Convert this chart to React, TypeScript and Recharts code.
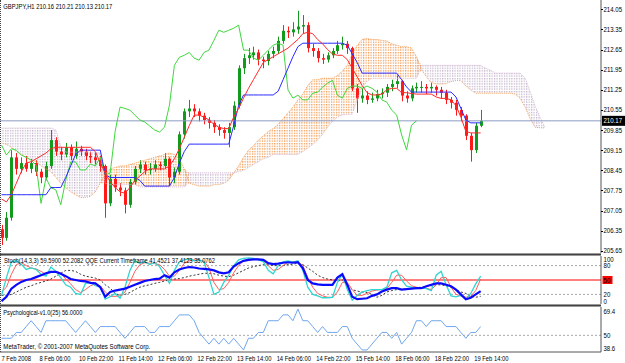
import React from 'react';
import { ComposedChart, Line, Bar, Area, XAxis, YAxis, ReferenceLine } from 'recharts';

// ---------- price data (one candle = 2 H1 bars) ----------
const OPEN = [
  206.4, 206.1, 206.8, 208.9, 208.5, 208.7, 208.5, 208.7, 208.4, 208.2,
  208.6, 209.5, 209.1, 209.0, 209.25, 208.95, 209.2, 209.1, 208.95, 208.9,
  208.8, 208.6, 207.3, 208.15, 207.85, 207.75, 207.25, 208.05, 208.5, 208.65,
  208.45, 208.5, 208.65, 208.6, 208.85, 208.2, 208.4, 209.7, 210.5, 210.6,
  210.5, 210.35, 210.2, 210.1, 209.95, 209.85, 209.75, 209.95, 210.7, 212.0,
  212.35, 212.45, 212.55, 212.3, 212.25, 212.5, 212.6, 212.95, 213.3, 213.25,
  213.35, 213.45, 213.5, 212.7, 212.6, 212.35, 212.3, 212.45, 212.6, 212.8,
  212.85, 212.7, 211.3, 210.95, 211.05, 210.9, 210.95, 211.1, 211.15, 211.35,
  211.45, 211.55, 211.05, 210.95, 211.3, 211.35, 211.35, 211.3, 211.35, 211.25,
  211.15, 210.9, 210.8, 210.55, 210.35, 209.65, 209.15, 210.0,
];
const HIGH = [
  206.55, 207.0, 209.15, 209.05, 208.9, 208.95, 208.85, 208.8, 208.5, 208.75,
  209.85, 209.6, 209.25, 209.4, 209.35, 209.45, 209.3, 209.2, 209.1, 209.05,
  208.95, 208.65, 208.3, 208.3, 208.0, 207.85, 208.15, 208.6, 208.8, 208.75,
  208.7, 208.8, 208.75, 209.05, 208.9, 208.55, 209.8, 210.6, 210.9, 210.75,
  210.6, 210.45, 210.3, 210.2, 210.05, 209.95, 210.1, 210.85, 212.1, 212.5,
  212.7, 212.75, 212.65, 212.4, 212.6, 212.75, 213.1, 213.5, 213.45, 213.6,
  214.0, 213.85, 213.6, 212.85, 212.7, 212.5, 212.55, 212.7, 212.95, 213.1,
  212.95, 212.75, 211.45, 211.3, 211.2, 211.15, 211.25, 211.3, 211.45, 211.6,
  211.75, 211.6, 211.2, 211.4, 211.5, 211.55, 211.45, 211.5, 211.4, 211.35,
  211.25, 211.0, 210.9, 210.65, 210.4, 209.75, 210.1, 210.55,
];
const LOW = [
  205.85, 206.0, 206.7, 208.3, 208.35, 208.4, 208.35, 208.25, 208.0, 208.1,
  208.5, 208.95, 208.8, 208.9, 208.8, 208.85, 208.95, 208.8, 208.7, 208.65,
  208.4, 206.8, 207.2, 207.7, 207.55, 206.95, 207.15, 207.95, 208.35, 208.3,
  208.3, 208.4, 208.45, 208.5, 207.9, 208.0, 208.3, 209.55, 210.3, 210.3,
  210.15, 210.05, 209.9, 209.75, 209.65, 209.55, 209.25, 209.85, 210.6, 211.8,
  212.15, 212.3, 212.1, 212.0, 212.1, 212.35, 212.5, 212.85, 213.05, 213.1,
  213.2, 213.2, 212.55, 212.4, 212.2, 212.15, 212.2, 212.35, 212.5, 212.65,
  212.5, 211.2, 210.45, 210.8, 210.75, 210.8, 210.85, 210.95, 211.0, 211.2,
  211.3, 210.85, 210.8, 210.85, 211.15, 211.15, 211.1, 211.15, 211.05, 210.95,
  210.75, 210.6, 210.35, 210.15, 209.5, 208.75, 209.05, 209.95,
];
const CLOSE = [
  206.1, 206.8, 208.9, 208.5, 208.7, 208.5, 208.7, 208.4, 208.2, 208.6,
  209.5, 209.1, 209.0, 209.25, 208.95, 209.2, 209.1, 208.95, 208.9, 208.8,
  208.6, 207.3, 208.15, 207.85, 207.75, 207.25, 208.05, 208.5, 208.65, 208.45,
  208.5, 208.65, 208.6, 208.85, 208.2, 208.4, 209.7, 210.5, 210.6, 210.5,
  210.35, 210.2, 210.1, 209.95, 209.85, 209.75, 209.95, 210.7, 212.0, 212.35,
  212.45, 212.55, 212.3, 212.25, 212.5, 212.6, 212.95, 213.3, 213.25, 213.35,
  213.45, 213.5, 212.7, 212.6, 212.35, 212.3, 212.45, 212.6, 212.8, 212.85,
  212.7, 211.3, 210.95, 211.05, 210.9, 210.95, 211.1, 211.15, 211.35, 211.45,
  211.55, 211.05, 210.95, 211.3, 211.35, 211.35, 211.3, 211.35, 211.25, 211.15,
  210.9, 210.8, 210.55, 210.35, 209.65, 209.15, 210.0, 210.17,
];

// ---------- Ichimoku ----------
const TENKAN = [
  207.45, 207.35, 207.6, 208.0, 208.4, 208.7, 208.75, 208.85, 208.95, 209.05,
  209.2, 209.25, 209.25, 209.25, 209.25, 209.25, 209.25, 209.25, 209.25, 209.1,
  208.7, 208.35, 208.05, 207.85, 207.7, 207.65, 207.85, 208.1, 208.25, 208.4,
  208.5, 208.5, 208.5, 208.5, 208.6, 208.85, 209.2, 209.6, 210.0, 210.37,
  210.37, 210.3, 210.2, 210.05, 209.95, 209.9, 209.9, 210.3, 210.6, 210.96,
  211.3, 211.6, 211.9, 212.2, 212.3, 212.4, 212.5, 212.6, 212.7, 212.85,
  213.0, 213.2, 213.25, 213.2, 213.0, 212.85, 212.65, 212.5, 212.45, 212.45,
  212.3, 212.0, 211.7, 211.4, 211.15, 211.07, 211.07, 211.1, 211.25, 211.3,
  211.3, 211.15, 211.15, 211.12, 211.1, 211.1, 211.1, 211.1, 211.0, 210.95,
  210.95, 210.9, 210.7, 210.3, 209.8, 209.75, 209.75, 209.75,
];
const KIJUN = [
  207.6, 207.6, 207.6, 207.6, 207.6, 207.6, 207.6, 207.6, 207.6, 207.6,
  207.85, 207.85, 207.85, 208.2, 208.6, 209.0, 209.15, 209.15, 209.15, 209.15,
  209.15, 208.3, 208.2, 208.2, 208.2, 208.2, 208.2, 208.2, 208.1, 207.9,
  207.9, 207.9, 207.9, 207.9, 207.9, 208.2, 208.7, 209.1, 209.36, 209.36,
  209.36, 209.36, 209.36, 209.36, 209.36, 209.36, 209.36, 210.0, 210.7, 211.07,
  211.07, 211.07, 211.07, 211.07, 211.07, 211.07, 211.2, 211.6, 212.0, 212.4,
  212.75, 212.87, 212.87, 212.87, 212.87, 212.87, 212.87, 212.87, 212.87, 212.87,
  212.8, 212.5, 212.2, 211.83, 211.83, 211.83, 211.83, 211.83, 211.83, 211.83,
  211.83, 211.6, 211.35, 211.17, 211.17, 211.17, 211.17, 211.17, 211.17, 211.17,
  211.17, 211.17, 211.0, 210.6, 210.2, 210.1, 210.1, 210.1,
];
const CHIKOU = [
  209.33, 208.98, 209.2, 209.15, 208.98, 208.9, 208.8, 208.63, 207.3, 208.18,
  207.84, 207.77, 207.25, 208.1, 208.74, 208.74, 208.46, 208.46, 208.67, 208.6,
  208.9, 208.3, 208.35, 209.8, 210.65, 210.6, 210.54, 210.37, 210.2, 210.13,
  209.99, 209.85, 209.78, 209.95, 210.72, 212.1, 212.38, 212.45, 212.55, 212.35,
  212.28, 212.55, 212.63, 212.97, 213.32, 213.25, 213.32, 213.39, 213.5, 212.63,
  212.63, 212.35, 212.28, 212.45, 212.63, 212.8, 212.87, 212.8, 211.24, 210.96,
  211.06, 210.9, 210.9, 211.13, 211.17, 211.34, 211.48, 211.58, 211.06, 210.96,
  211.3, 211.38, 211.38, 211.3, 211.38, 211.3, 211.17, 210.9, 210.82, 210.54,
  210.37, 209.68, 209.16, 210.02, 210.17,
];
const SPAN_A = [
  209.4, 209.35, 209.25, 209.1, 209.0, 208.9, 208.8, 208.75, 208.6, 208.5,
  208.4, 208.2, 208.0, 207.85, 207.7, 207.6, 207.5, 207.5, 207.55, 207.7,
  208.0, 208.3, 208.5, 208.55, 208.6, 208.6, 208.65, 208.7, 208.75, 208.8,
  208.85, 208.9, 208.95, 209.0, 209.05, 209.0, 208.85, 208.5, 208.0, 207.95,
  207.9, 207.9, 207.9, 207.95, 207.95, 208.0, 208.1, 208.36, 208.6, 208.9,
  209.15, 209.3, 209.5, 209.65, 209.8, 209.9, 210.05, 210.25, 210.45, 210.65,
  210.9, 211.1, 211.4, 211.6, 211.6, 211.65, 211.65, 211.65, 211.75, 211.9,
  212.1, 212.5, 212.8, 213.0, 213.04, 213.0, 213.0, 212.97, 212.95, 212.85,
  212.8, 212.75, 212.75, 212.7, 212.4, 211.95, 211.7, 211.5, 211.45, 211.45,
  211.47, 211.54, 211.57, 211.57, 211.38, 211.25, 211.13, 211.13, 211.13, 211.13,
  211.13, 211.13, 211.13, 211.13, 211.1, 210.95, 210.65, 210.25, 209.95, 209.93,
  209.92,
];
const SPAN_B = [
  209.92, 209.92, 209.92, 209.92, 209.92, 209.92, 209.92, 209.92, 209.92, 209.92,
  209.92, 209.85, 209.3, 209.08, 209.08, 209.08, 209.08, 209.08, 209.08, 209.08,
  209.05, 208.0, 207.95, 207.95, 207.95, 207.95, 207.95, 207.95, 207.87, 207.87,
  207.87, 207.87, 207.87, 207.87, 207.87, 207.87, 207.87, 207.87, 208.36, 208.36,
  208.36, 208.36, 208.36, 208.36, 208.36, 208.36, 208.36, 208.36, 208.4, 208.45,
  208.55, 208.65, 208.75, 208.85, 208.9, 209.0, 209.0, 209.0, 209.0, 209.0,
  209.0, 209.1, 209.22, 209.35, 209.5, 209.7, 209.95, 210.15, 210.3, 210.37,
  210.4, 210.4, 210.9, 211.3, 211.55, 211.65, 211.65, 211.65, 211.65, 211.65,
  211.65, 211.65, 211.65, 211.65, 211.65, 212.1, 212.1, 212.1, 212.1, 212.1,
  212.1, 212.1, 212.1, 212.1, 212.1, 212.1, 212.1, 212.1, 212.0, 211.93,
  211.83, 211.83, 211.83, 211.83, 211.83, 211.83, 211.65, 211.2, 210.7, 210.3,
  209.95,
];
const BID = 210.17;
const PRICE_TICKS = [205.65, 206.35, 207.05, 207.75, 208.45, 209.15, 209.85, 210.55, 211.25, 211.95, 212.65, 213.35, 214.05];

// ---------- Stochastic + QQE ----------
const STOCH_MAIN = [
  17, 55, 88, 90, 83, 72, 75, 72, 62, 58,
  77, 68, 55, 40, 35, 22, 20, 43, 45, 38,
  35, 10, 15, 22, 12, 35, 70, 90, 85, 88,
  82, 86, 78, 60, 43, 70, 88, 92, 94, 90,
  92, 88, 55, 20, 25, 45, 60, 80, 92, 95,
  96, 95, 92, 88, 70, 63, 80, 88, 90, 87,
  90, 70, 35, 20, 17, 13, 13, 14, 45, 62,
  30, 8, 18, 25, 28, 30, 30, 30, 35, 65,
  70, 50, 37, 35, 32, 33, 32, 28, 60, 68,
  40, 17, 15, 18, 10, 22, 42, 58,
];
const STOCH_SIGNAL = [
  25, 35, 62, 82, 86, 80, 75, 73, 68, 62,
  66, 68, 65, 52, 42, 30, 24, 30, 38, 42,
  38, 25, 16, 16, 17, 25, 45, 68, 82, 86,
  85, 84, 82, 72, 58, 58, 70, 85, 90, 92,
  91, 89, 75, 45, 30, 32, 45, 65, 80, 90,
  94, 95, 93, 90, 80, 70, 72, 80, 87, 88,
  88, 80, 55, 35, 22, 17, 14, 14, 25, 45,
  45, 30, 18, 18, 22, 27, 29, 30, 32, 45,
  60, 60, 48, 38, 35, 33, 33, 30, 40, 55,
  55, 35, 20, 17, 14, 16, 28, 52,
];
const QQE_RSI = [
  6, 15, 32, 40, 46, 50, 52, 56, 60, 64,
  67, 67, 63, 58, 52, 50, 48, 47, 44, 43,
  35, 15, 25, 28, 30, 32, 36, 40, 44, 48,
  50, 52, 53, 60, 55, 66, 72, 75, 77, 76,
  74, 73, 72, 70, 66, 64, 66, 78, 85, 90,
  92, 93, 93, 92, 85, 83, 84, 86, 87, 86,
  87, 75, 50, 43, 41, 40, 40, 40, 55, 62,
  40, 15, 10, 11, 12, 17, 20, 26, 30, 33,
  33, 30, 31, 32, 33, 33, 37, 40, 43, 43,
  40, 37, 30, 20, 10, 13, 20, 27,
];
const QQE_TRAIL = [
  18, 18, 20, 25, 30, 35, 38, 42, 45, 48,
  52, 58, 64, 70, 70, 68, 62, 58, 56, 54,
  50, 40, 33, 22, 18, 20, 24, 30, 35, 38,
  40, 43, 45, 48, 50, 52, 53, 55, 58, 60,
  62, 64, 64, 63, 60, 58, 57, 60, 65, 70,
  75, 78, 80, 82, 82, 80, 80, 80, 82, 83,
  85, 82, 75, 68, 60, 55, 52, 50, 48, 50,
  40, 30, 27, 25, 24, 20, 14, 18, 25, 28,
  30, 30, 32, 33, 34, 35, 36, 38, 40, 40,
  38, 35, 30, 25, 22, 16, 14, 16,
];
const STOCH_TICKS = [100, 80, 50, 20, 0];

// ---------- Psychological ----------
const PSYCH = [
  48, 48, 48, 52, 52, 56, 60, 56, 52, 60,
  60, 60, 60, 60, 56, 52, 56, 60, 56, 52,
  56, 56, 56, 56, 52, 48, 52, 56, 56, 56,
  52, 52, 56, 56, 56, 60, 64, 64, 64, 60,
  52, 48, 44, 48, 44, 48, 44, 48, 44, 40,
  48, 48, 52, 52, 60, 60, 60, 64, 64, 60,
  68, 60, 60, 56, 52, 56, 52, 52, 52, 56,
  56, 48, 44, 40, 40, 44, 48, 52, 52, 48,
  52, 44, 48, 52, 60, 60, 56, 60, 60, 60,
  56, 56, 56, 52, 48, 52, 52, 56,
];
const PSYCH_TICKS = [69.4, 50, 38.6];

// ---------- time scale ----------
const TIME_LABELS = [
  '7 Feb 2008', '8 Feb 06:00', '10 Feb 22:00', '11 Feb 14:00', '12 Feb 06:00', '12 Feb 22:00',
  '13 Feb 14:00', '14 Feb 06:00', '14 Feb 22:00', '15 Feb 14:00', '18 Feb 06:00', '18 Feb 22:00', '19 Feb 14:00',
];
const TIME_SLOTS = [0, 8, 16, 24, 32, 40, 48, 56, 64, 72, 80, 88, 96];

// ---------- helpers ----------
const FONT = '"Liberation Sans", Arial, sans-serif';
const XDOM: [number, number] = [-0.304, 121.36];
const GREEN = '#129a1c';
const RED = '#ff1a1a';

const charW = (ch: string) =>
  /[0-9]/.test(ch) ? 3.4 : /[.,:; ]/.test(ch) ? 1.5 : /[()\-]/.test(ch) ? 2 : /[A-Z]/.test(ch) ? 3.6 : 2.9;
const tw = (s: string) => s.split('').reduce((a, ch) => a + charW(ch), 0);

const Txt = ({ x, y, w, children, fill = '#000', size = 7 }: any) => (
  <text x={x} y={y} fontSize={size} fontFamily={FONT} fill={fill} textLength={w} lengthAdjust="spacingAndGlyphs">
    {children}
  </text>
);

const mainData = SPAN_A.map((a, i) => {
  const b = SPAN_B[i];
  const n = SPAN_A.length;
  const up = (k: number) => k >= 0 && k < n && SPAN_A[k] >= SPAN_B[k];
  const dn = (k: number) => k >= 0 && k < n && SPAN_A[k] < SPAN_B[k];
  const lo = Math.min(a, b);
  const hi = Math.max(a, b);
  const has = i < CLOSE.length;
  return {
    i,
    candle: has ? [LOW[i], HIGH[i]] : null,
    o: has ? OPEN[i] : null,
    h: has ? HIGH[i] : null,
    l: has ? LOW[i] : null,
    c: has ? CLOSE[i] : null,
    tenkan: has ? TENKAN[i] : null,
    kijun: has ? KIJUN[i] : null,
    chikou: i < CHIKOU.length ? CHIKOU[i] : null,
    spanA: a,
    spanB: b,
    kUp: up(i) || up(i - 1) || up(i + 1) ? [lo, hi] : null,
    kDn: dn(i) || dn(i - 1) || dn(i + 1) ? [lo, hi] : null,
  };
});
const stochData = STOCH_MAIN.map((v, i) => ({ i, k: v, d: STOCH_SIGNAL[i], qqe: QQE_RSI[i], trail: QQE_TRAIL[i] }));
const psychData = PSYCH.map((v, i) => ({ i, p: v }));

const Candle = (props: any) => {
  const { x, y, width, height, payload } = props;
  if (!payload || payload.o == null || !isFinite(y) || !isFinite(height)) return null;
  const { o, h, l, c } = payload;
  const yTop = Math.min(y, y + height);
  const yBot = Math.max(y, y + height);
  const span = h - l || 1;
  const py = (p: number) => yTop + ((h - p) / span) * (yBot - yTop);
  const cx = Math.round(x + width / 2);
  const color = c >= o ? GREEN : RED;
  const bTop = py(Math.max(o, c));
  const bBot = py(Math.min(o, c));
  return (
    <g>
      <line x1={cx + 0.5} x2={cx + 0.5} y1={yTop} y2={yBot} stroke={color} strokeWidth={1} />
      <rect x={cx - 1} y={bTop} width={3} height={Math.max(1, bBot - bTop)} fill={color} />
    </g>
  );
};

const PriceTick = (props: any) => {
  const { y, payload } = props;
  const v = payload.value;
  if (v === BID) {
    return (
      <g>
        <rect x={602} y={y - 5} width={23} height={10} fill="#000" />
        <Txt x={603.5} y={y + 2.5} w={tw('210.17')} fill="#fff">{v.toFixed(2)}</Txt>
      </g>
    );
  }
  const cy = Math.min(y, 250.5);
  return (
    <g>
      <line x1={601} x2={603} y1={Math.round(y) + 0.5} y2={Math.round(y) + 0.5} stroke="#000" />
      <Txt x={603.5} y={cy + 2.5} w={tw(v.toFixed(2))}>{v.toFixed(2)}</Txt>
    </g>
  );
};

const StochTick = (props: any) => {
  const { y, payload } = props;
  const v = payload.value;
  const s = String(v);
  const cy = Math.max(3, Math.min(y, 45.5));
  if (v === 50) {
    return (
      <g>
        <rect x={602.5} y={y - 4} width={10} height={8} fill="#ff0000" />
        <Txt x={603.5} y={y + 2.5} w={tw(s)}>{s}</Txt>
      </g>
    );
  }
  return <Txt x={603.5} y={cy + 2.5} w={tw(s)}>{s}</Txt>;
};

const PsychTick = (props: any) => {
  const { y, payload } = props;
  const v = payload.value;
  const s = v === 50 ? '50' : v.toFixed(1);
  const cy = Math.max(4, Math.min(y, 41.5));
  return <Txt x={603.5} y={cy + 2.5} w={tw(s)}>{s}</Txt>;
};

const TimeTick = (props: any) => {
  const { x, payload } = props;
  const k = TIME_SLOTS.indexOf(payload.value);
  const label = TIME_LABELS[k] ?? '';
  const tx = Math.max(1.5, x - 1.5);
  return <Txt x={tx} y={53.5} w={tw(label)}>{label}</Txt>;
};

const M0 = { top: 0, right: 0, bottom: 0, left: 0 };

export default function App() {
  return (
    <div style={{ position: 'absolute', left: 0, top: 0, width: 625, height: 363, background: '#fff', overflow: 'hidden' }}>
      {/* main price window */}
      <div style={{ position: 'absolute', left: 0, top: 0 }}>
        <ComposedChart width={625} height={253} data={mainData} margin={M0}>
          <defs>
            <pattern id="kOrange" patternUnits="userSpaceOnUse" width={2.47} height={2.6}>
              <rect x={0} y={0} width={1.2} height={1.4} fill="#f29a55" />
            </pattern>
            <pattern id="kThistle" patternUnits="userSpaceOnUse" width={2.47} height={2.6}>
              <rect x={0} y={0} width={1.2} height={1.4} fill="#c4b4cc" />
            </pattern>
          </defs>
          <XAxis type="number" dataKey="i" domain={XDOM} allowDataOverflow hide ticks={TIME_SLOTS} />
          <YAxis
            orientation="right"
            width={24}
            type="number"
            domain={[205.573, 214.373]}
            allowDataOverflow
            ticks={[...PRICE_TICKS, BID]}
            interval={0}
            tick={PriceTick}
            tickLine={false}
            axisLine={{ stroke: '#555' }}
          />
          <Area dataKey="kDn" type="linear" stroke="none" fill="url(#kThistle)" fillOpacity={1} isAnimationActive={false} dot={false} activeDot={false} />
          <Area dataKey="kUp" type="linear" stroke="none" fill="url(#kOrange)" fillOpacity={1} isAnimationActive={false} dot={false} activeDot={false} />
          <Line dataKey="spanB" type="linear" stroke="#d8bfd8" strokeDasharray="1 1" dot={false} activeDot={false} isAnimationActive={false} />
          <Line dataKey="spanA" type="linear" stroke="#f4a460" strokeDasharray="1 1" dot={false} activeDot={false} isAnimationActive={false} />
          <ReferenceLine y={BID} stroke="#8c9cc4" strokeWidth={1} />
          <Bar dataKey="candle" barSize={3} shape={Candle} isAnimationActive={false} />
          <Line dataKey="chikou" type="linear" stroke="#3ed83e" strokeWidth={1} dot={false} activeDot={false} isAnimationActive={false} />
          <Line dataKey="kijun" type="linear" stroke="#2a2aff" strokeWidth={1} dot={false} activeDot={false} isAnimationActive={false} />
          <Line dataKey="tenkan" type="linear" stroke="#ff2a2a" strokeWidth={1} dot={false} activeDot={false} isAnimationActive={false} />
        </ComposedChart>
      </div>

      {/* separators and frame */}
      <div style={{ position: 'absolute', left: 0, top: 253, width: 601, height: 1, background: '#444', borderTop: '1px solid #999', borderBottom: '1px solid #999' }} />
      <div style={{ position: 'absolute', left: 0, top: 304, width: 601, height: 1, background: '#444', borderTop: '1px solid #999', borderBottom: '1px solid #999' }} />
      <div style={{ position: 'absolute', left: 0, top: 0, width: 0, height: 352, borderLeft: '1px dotted #444' }} />

      {/* stochastic / QQE window */}
      <div style={{ position: 'absolute', left: 0, top: 256 }}>
        <ComposedChart width={625} height={48} data={stochData} margin={M0}>
          <XAxis type="number" dataKey="i" domain={XDOM} allowDataOverflow hide ticks={TIME_SLOTS} />
          <YAxis
            orientation="right"
            width={24}
            type="number"
            domain={[0, 100]}
            allowDataOverflow
            ticks={STOCH_TICKS}
            interval={0}
            tick={StochTick}
            tickLine={false}
            axisLine={{ stroke: '#555' }}
          />
          <ReferenceLine y={80} stroke="#a8a8a8" strokeDasharray="2 2" />
          <ReferenceLine y={20} stroke="#a8a8a8" strokeDasharray="2 2" />
          <ReferenceLine y={50} stroke="#ff0000" />
          <Line dataKey="trail" type="linear" stroke="#333" strokeDasharray="2 2" strokeWidth={1} dot={false} activeDot={false} isAnimationActive={false} />
          <Line dataKey="d" type="linear" stroke="#ff5c5c" strokeWidth={1} dot={false} activeDot={false} isAnimationActive={false} />
          <Line dataKey="k" type="linear" stroke="#2fd6d0" strokeWidth={1.3} dot={false} activeDot={false} isAnimationActive={false} />
          <Line dataKey="qqe" type="linear" stroke="#0a0aff" strokeWidth={2.2} dot={false} activeDot={false} isAnimationActive={false} />
        </ComposedChart>
      </div>

      {/* psychological window + time scale */}
      <div style={{ position: 'absolute', left: 0, top: 307 }}>
        <ComposedChart width={625} height={56} data={psychData} margin={M0}>
          <XAxis
            type="number"
            dataKey="i"
            domain={XDOM}
            allowDataOverflow
            ticks={TIME_SLOTS}
            interval={0}
            height={11}
            tick={TimeTick}
            tickLine={false}
            axisLine={{ stroke: '#555' }}
          />
          <YAxis
            orientation="right"
            width={24}
            type="number"
            domain={[38.6, 69.4]}
            allowDataOverflow
            ticks={PSYCH_TICKS}
            interval={0}
            tick={PsychTick}
            tickLine={false}
            axisLine={{ stroke: '#555' }}
          />
          <ReferenceLine y={50} stroke="#a8a8a8" strokeDasharray="2 2" />
          <Line dataKey="p" type="linear" stroke="#6fa6ee" strokeWidth={1} dot={false} activeDot={false} isAnimationActive={false} />
        </ComposedChart>
      </div>

      {/* window captions */}
      <svg width={625} height={363} style={{ position: 'absolute', left: 0, top: 0, pointerEvents: 'none' }}>
        <Txt x={3.3} y={8.5} w={109}>GBPJPY,H1  210.16 210.21 210.13 210.17</Txt>
        <Txt x={4} y={263.3} w={211}>Stoch(14,3,3) 59.5900 52.2082  QQE Current Timeframe 41.4521 37.4123 35.0762</Txt>
        <Txt x={3.3} y={314.6} w={79}>Psychological-v1.0(25) 56.0000</Txt>
        <Txt x={3.3} y={349.3} w={147}>MetaTrader, © 2001-2007 MetaQuotes Software Corp.</Txt>
      </svg>
    </div>
  );
}
